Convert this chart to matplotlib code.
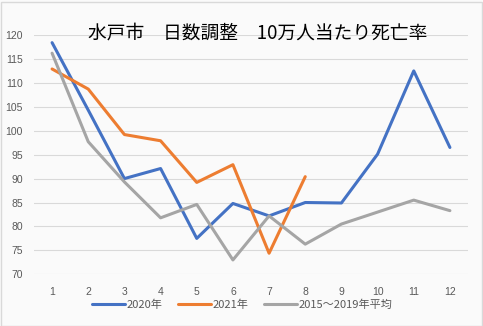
import matplotlib
matplotlib.use("Agg")
import matplotlib.pyplot as plt
from matplotlib.patches import Rectangle

months = ["1", "2", "3", "4", "5", "6", "7", "8", "9", "10", "11", "12"]
y2020 = [118.4, 104.3, 90.0, 92.1, 77.5, 84.8, 82.2, 85.0, 84.9, 95.1, 112.5, 96.5]
y2021 = [112.9, 108.7, 99.2, 97.9, 89.2, 92.9, 74.4, 90.4]
yavg = [116.2, 97.7, 89.3, 81.8, 84.6, 73.0, 82.2, 76.3, 80.5, 83.0, 85.5, 83.3]
yticks = [70, 75, 80, 85, 90, 95, 100, 105, 110, 115, 120]
title = "水戸市　日数調整　10万人当たり死亡率"
labels = ["2020年", "2021年", "2015～2019年平均"]

W, H = 483, 326
fig = plt.figure(figsize=(W / 100, H / 100), dpi=100)
fig.patch.set_facecolor("#fafafa")
fig.patches.append(Rectangle((0.5 / W, 0.5 / H), 1 - 2 / W, 1 - 2 / H, transform=fig.transFigure,
                             fill=False, edgecolor="#d9d9d9", linewidth=1.0))

ax = fig.add_axes([34 / W, 1 - 274.3 / H, (468 - 34) / W, (274.3 - 35) / H])
ax.set_facecolor("#fafafa")

x = list(range(len(months)))
ax.plot(x, y2020, color="#4472C4", lw=2.2, solid_capstyle="round", label=labels[0], zorder=3)
ax.plot(x[:len(y2021)], y2021, color="#ED7D31", lw=2.2, solid_capstyle="round", label=labels[1], zorder=3)
ax.plot(x, yavg, color="#A5A5A5", lw=2.2, solid_capstyle="round", label=labels[2], zorder=3)

ax.set_xlim(-0.5, len(months) - 0.5)
ax.set_ylim(70, 120)
ax.set_yticks(yticks)
ax.set_xticks(x)
ax.set_xticklabels(months)
ax.grid(axis="y", color="#d9d9d9", lw=0.8)
ax.set_axisbelow(True)
for s in ax.spines.values():
    s.set_visible(False)
ax.tick_params(axis="both", length=0, colors="#595959", labelsize=7.5)
ax.tick_params(axis="y", pad=8)
ax.tick_params(axis="x", pad=9)
for t in ax.get_xticklabels() + ax.get_yticklabels():
    t.set_fontfamily("Liberation Sans")

fig.text(258 / W, 1 - 33 / H, title, ha="center", va="center", fontsize=13.5,
         family=["Noto Sans CJK JP", "DejaVu Sans"], color="#000000")

leg = fig.legend(loc="center", bbox_to_anchor=(242 / W, 1 - 305 / H), ncol=3, frameon=False,
                 handlelength=3.0, handletextpad=0.1, columnspacing=1.4,
                 prop={"family": ["Noto Sans CJK JP", "DejaVu Sans"], "size": 8})
for t in leg.get_texts():
    t.set_color("#595959")

fig.savefig("out.png", dpi=100, facecolor=fig.get_facecolor())
